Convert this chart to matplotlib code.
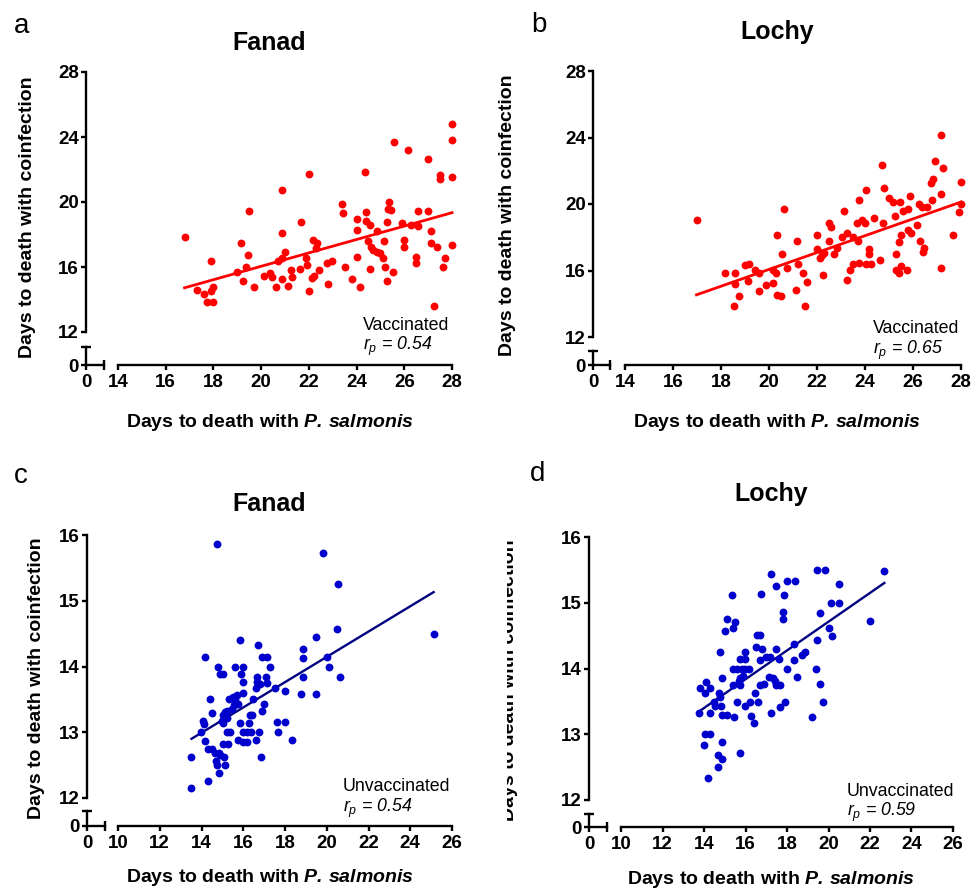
import numpy as np
import matplotlib
matplotlib.use('Agg')
import matplotlib.pyplot as plt
from matplotlib.ticker import FixedLocator
from matplotlib.transforms import Bbox, TransformedBbox

W, H = 977, 889

# --- values ---
# (a) Fanad, vaccinated
fanad_vac_x = [16.79, 17.33, 17.59, 17.72, 18.00, 17.91, 18.00, 17.88, 18.98, 19.16,
               19.26, 19.36, 19.44, 19.50, 19.72, 20.14, 20.37, 20.47, 20.61, 20.72,
               20.86, 20.86, 20.89, 20.86, 21.00, 21.14, 21.25, 21.31, 21.63, 21.67,
               21.87, 21.91, 22.01, 22.01, 22.12, 22.16, 22.23, 22.33, 22.28, 22.42,
               22.75, 22.79, 22.98, 23.37, 23.44, 23.51, 23.82, 24.00, 24.00, 24.00,
               24.14, 24.35, 24.38, 24.38, 24.56, 24.46, 24.60, 24.67, 24.56, 24.84,
               24.84, 24.98, 25.12, 25.16, 25.21, 25.26, 25.28, 25.37, 25.32, 25.44,
               25.51, 25.56, 25.91, 26.00, 26.00, 26.16, 26.27, 26.51, 26.51, 26.58,
               26.58, 27.00, 27.00, 27.11, 27.14, 27.25, 27.39, 27.50, 27.50, 27.63,
               27.72, 28.00, 28.00, 28.00, 28.00]
fanad_vac_y = [17.85, 14.60, 14.35, 13.84, 13.84, 14.50, 14.74, 16.34, 15.72, 17.46,
               15.15, 15.97, 16.71, 19.45, 14.74, 15.42, 15.62, 15.36, 14.74, 16.40,
               16.58, 20.74, 18.08, 15.25, 16.95, 14.84, 15.83, 15.36, 15.87, 18.79,
               16.58, 16.13, 21.70, 14.50, 15.31, 17.67, 15.42, 17.46, 17.16, 15.81,
               16.24, 14.97, 16.34, 19.86, 19.30, 15.97, 15.25, 18.96, 18.28, 16.64,
               14.80, 21.82, 19.37, 18.83, 18.59, 17.57, 17.26, 17.05, 15.87, 18.22,
               16.95, 16.85, 16.58, 17.63, 15.99, 18.79, 15.15, 19.98, 19.57, 19.51,
               15.72, 23.70, 18.73, 17.67, 17.22, 23.21, 18.59, 16.64, 16.24, 19.45,
               18.55, 22.64, 19.45, 18.24, 17.46, 13.62, 17.26, 21.66, 21.39, 15.97,
               16.54, 24.79, 23.81, 21.56, 17.36]

# (b) Lochy, vaccinated
lochy_vac_x = [16.98, 18.17, 18.58, 18.58, 18.54, 18.76, 19.00, 19.17, 19.14, 19.42,
               19.58, 19.58, 19.87, 20.15, 20.18, 20.29, 20.35, 20.35, 20.48, 20.53,
               20.62, 20.73, 21.12, 21.15, 21.22, 21.40, 21.57, 21.50, 21.98, 22.01,
               22.12, 22.19, 22.29, 22.26, 22.51, 22.57, 22.51, 22.72, 22.85, 23.03,
               23.12, 23.23, 23.26, 23.37, 23.48, 23.51, 23.68, 23.72, 23.75, 23.76,
               23.86, 24.00, 24.03, 24.03, 24.18, 24.18, 24.23, 24.37, 24.62, 24.72,
               24.76, 24.80, 25.00, 25.15, 25.25, 25.28, 25.28, 25.42, 25.43, 25.46,
               25.50, 25.50, 25.60, 25.78, 25.78, 25.73, 25.87, 25.92, 26.18, 26.26,
               26.29, 26.36, 26.47, 26.43, 26.60, 26.78, 26.73, 26.85, 26.92, 27.17,
               27.17, 27.17, 27.23, 27.65, 27.92, 28.00, 28.00]
lochy_vac_y = [19.01, 15.87, 15.87, 15.21, 13.86, 14.44, 16.35, 16.41, 15.35, 16.01,
               15.87, 14.74, 15.14, 16.01, 15.25, 15.85, 18.15, 14.50, 14.44, 17.01,
               19.72, 16.15, 14.84, 17.75, 16.37, 15.85, 15.31, 13.86, 18.11, 17.31,
               16.75, 16.91, 17.05, 15.75, 18.85, 18.61, 17.77, 17.01, 17.37, 18.01,
               19.58, 18.25, 15.45, 16.01, 16.37, 18.01, 18.85, 17.77, 20.22, 16.47,
               19.01, 18.85, 20.86, 16.37, 17.31, 16.97, 16.41, 19.15, 16.65, 22.36,
               18.87, 20.96, 20.38, 20.12, 19.26, 16.97, 16.01, 15.87, 17.71, 20.12,
               18.11, 16.27, 19.56, 18.41, 19.72, 16.01, 20.48, 18.25, 18.75, 20.02,
               17.77, 19.82, 17.37, 17.11, 19.82, 20.26, 21.26, 21.52, 22.58, 20.62,
               16.15, 24.17, 22.16, 18.11, 19.52, 21.32, 20.02]

# (c) Fanad, unvaccinated
fanad_unvac_x = [14.75, 19.84, 20.56, 20.48, 19.47, 18.85, 18.85, 20.00, 20.13, 20.64,
                 18.85, 18.75, 19.47, 18.00, 17.52, 15.84, 16.72, 14.16, 16.88, 17.12,
                 17.28, 14.80, 14.88, 15.01, 15.60, 16.00, 15.89, 16.00, 16.64, 16.67,
                 17.09, 17.15, 16.61, 16.80, 14.40, 15.33, 15.52, 15.60, 15.71, 15.97,
                 16.45, 15.76, 15.55, 15.44, 15.20, 15.12, 16.99, 16.88, 14.51, 15.01,
                 15.20, 15.04, 14.96, 14.05, 14.11, 16.32, 16.40, 16.29, 15.84, 17.63,
                 18.00, 17.68, 13.98, 15.20, 15.36, 15.97, 16.16, 16.35, 16.75, 15.76,
                 15.97, 16.16, 16.61, 18.32, 14.16, 15.04, 15.28, 14.32, 14.51, 14.64,
                 14.85, 14.91, 15.07, 13.52, 14.69, 14.72, 15.14, 16.83, 14.85, 14.29,
                 13.52, 25.12]
fanad_unvac_y = [15.86, 15.72, 15.25, 14.57, 14.45, 14.26, 14.13, 14.14, 14.00, 13.84,
                 13.84, 13.58, 13.58, 13.63, 13.68, 14.40, 14.33, 14.14, 14.14, 14.14,
                 14.00, 14.00, 13.89, 13.88, 14.00, 14.00, 13.88, 13.76, 13.84, 13.76,
                 13.84, 13.75, 13.68, 13.74, 13.50, 13.51, 13.54, 13.49, 13.56, 13.59,
                 13.51, 13.43, 13.41, 13.36, 13.33, 13.31, 13.43, 13.33, 13.29, 13.26,
                 13.21, 13.14, 13.17, 13.17, 13.12, 13.26, 13.26, 13.14, 13.14, 13.15,
                 13.15, 13.00, 13.00, 13.00, 13.00, 13.00, 13.00, 13.00, 13.00, 12.88,
                 12.85, 12.85, 12.88, 12.88, 12.86, 12.82, 12.82, 12.75, 12.75, 12.68,
                 12.68, 12.65, 12.63, 12.62, 12.57, 12.50, 12.50, 12.62, 12.38, 12.26,
                 12.15, 14.50]

# (d) Lochy, unvaccinated
lochy_unvac_x = [22.69, 19.44, 19.85, 17.23, 18.00, 18.40, 17.48, 20.52, 16.75, 17.87,
                 15.36, 20.12, 20.52, 17.81, 17.81, 19.57, 15.11, 15.51, 15.40, 15.00,
                 22.01, 20.01, 20.17, 16.55, 16.71, 19.44, 18.35, 14.75, 15.99, 16.52,
                 16.79, 17.48, 18.88, 18.72, 15.75, 15.99, 16.71, 17.00, 17.20, 17.60,
                 18.32, 15.40, 15.59, 15.83, 15.99, 16.15, 18.00, 19.38, 14.87, 15.75,
                 15.88, 15.67, 17.12, 17.32, 17.44, 18.48, 14.11, 13.82, 14.27, 15.40,
                 15.75, 16.71, 16.87, 17.48, 17.65, 19.61, 14.06, 14.71, 16.47, 14.75,
                 14.50, 14.82, 14.54, 15.59, 15.99, 16.20, 16.60, 17.68, 17.92, 19.73,
                 13.74, 14.27, 14.87, 15.11, 15.43, 16.26, 16.42, 17.23, 19.22, 14.06,
                 14.27, 13.98, 14.87, 14.67, 14.87, 15.72, 14.66, 14.18]
lochy_unvac_y = [15.49, 15.50, 15.50, 15.43, 15.33, 15.33, 15.25, 15.28, 15.14, 15.12,
                 15.12, 15.00, 15.00, 14.86, 14.75, 14.84, 14.75, 14.71, 14.62, 14.57,
                 14.72, 14.62, 14.49, 14.51, 14.51, 14.43, 14.38, 14.25, 14.25, 14.32,
                 14.29, 14.29, 14.25, 14.20, 14.14, 14.14, 14.13, 14.17, 14.17, 14.14,
                 14.13, 14.00, 14.00, 14.00, 14.00, 14.00, 14.00, 14.00, 13.85, 13.85,
                 13.88, 13.81, 13.87, 13.85, 13.81, 13.87, 13.80, 13.71, 13.71, 13.75,
                 13.75, 13.75, 13.77, 13.75, 13.75, 13.77, 13.62, 13.62, 13.62, 13.57,
                 13.49, 13.43, 13.43, 13.49, 13.43, 13.49, 13.49, 13.42, 13.49, 13.49,
                 13.33, 13.33, 13.29, 13.29, 13.26, 13.27, 13.17, 13.33, 13.26, 13.00,
                 13.00, 12.84, 12.88, 12.68, 12.62, 12.72, 12.50, 12.33]

top_xticks = [14, 16, 18, 20, 22, 24, 26, 28]
top_yticks = [12, 16, 20, 24, 28]
bot_xticks = [10, 12, 14, 16, 18, 20, 22, 24, 26]
bot_yticks = [12, 13, 14, 15, 16]

panel_letters = ['a', 'b', 'c', 'd']
panel_titles = ['Fanad', 'Lochy', 'Fanad', 'Lochy']
group_names = ['Vaccinated', 'Vaccinated', 'Unvaccinated', 'Unvaccinated']
r_values = ['0.54', '0.65', '0.54', '0.59']

YLABEL = 'Days to death with coinfection'
XLABEL = r'Days to death with $\mathbfit{P.\,salmonis}$'

# --- style ---
plt.rcParams['font.family'] = ['Liberation Sans', 'DejaVu Sans']
plt.rcParams['font.weight'] = 'bold'
plt.rcParams['mathtext.fontset'] = 'custom'
plt.rcParams['mathtext.rm'] = 'Liberation Sans:normal'
plt.rcParams['mathtext.it'] = 'Liberation Sans:italic:normal'
plt.rcParams['mathtext.bf'] = 'Liberation Sans:bold'
plt.rcParams['mathtext.bfit'] = 'Liberation Sans:italic:bold'

RED = '#FF0000'
BLUE = '#0000CC'
NAVY = '#000080'
LW = 1.7
TICK = 3.5
TICKFS = 13.5


def fx(px):
    return px / W


def fy(py):
    return 1 - py / H


# geometry of each panel in pixels:
# y-axis x, end of short x piece, start / end of long x piece,
# top / bottom of long y piece, top of short y piece, x-axis y
GEO = [
    (86, 104, 118, 452, 72, 332, 347, 365),
    (593, 610, 625, 961, 71, 337, 351, 365),
    (87, 105, 118, 452, 535, 798, 811, 826),
    (589, 607, 621, 953, 537, 800, 814, 827),
]


def draw_panel(fig, geo, x, y, xticks, yticks, dot_col, line_col, line_w):
    X0, XS, XM0, XM1, YT, YB, YS, Y0 = geo
    x = np.asarray(x)
    y = np.asarray(y)
    xlim = (xticks[0], xticks[-1])
    ylim = (yticks[0], yticks[-1])

    # long y piece, carries the data
    per_unit = (XM1 - XM0) / (xlim[1] - xlim[0])
    ax = fig.add_axes([fx(X0), fy(YB), fx(XM1 - X0), (YB - YT) / H])
    ax.patch.set_visible(False)
    ax.set_xlim(xlim[0] - (XM0 - X0) / per_unit, xlim[1])
    ax.set_ylim(*ylim)
    for s in ['top', 'right', 'bottom']:
        ax.spines[s].set_visible(False)
    ax.spines['left'].set_linewidth(LW)
    ax.set_xticks([])
    ax.set_yticks(yticks)
    ax.yaxis.set_minor_locator(FixedLocator([ylim[0]]))
    ax.tick_params(axis='y', which='major', direction='out', length=TICK,
                   width=LW, pad=1.5, labelsize=TICKFS)
    ax.tick_params(axis='y', which='minor', direction='in', length=TICK, width=LW)

    ax.scatter(x, y, s=32, color=dot_col, linewidths=0, clip_on=False, zorder=3)
    k, b = np.polyfit(x, y, 1)
    xx = np.array([x.min(), x.max()])
    ax.plot(xx, k * xx + b, color=line_col, lw=line_w, clip_on=False, zorder=2)

    # short pieces around the origin
    ax0 = fig.add_axes([fx(X0), fy(Y0), fx(XS - X0), (Y0 - YS) / H])
    ax0.patch.set_visible(False)
    ax0.set_xlim(0, 1)
    ax0.set_ylim(0, 1)
    for s in ['top', 'right']:
        ax0.spines[s].set_visible(False)
    for s in ['left', 'bottom']:
        ax0.spines[s].set_linewidth(LW)
    ax0.set_xticks([0])
    ax0.set_yticks([0])
    ax0.xaxis.set_minor_locator(FixedLocator([1]))
    ax0.yaxis.set_minor_locator(FixedLocator([1]))
    ax0.tick_params(which='major', direction='out', length=TICK, width=LW,
                    labelsize=TICKFS)
    ax0.tick_params(axis='x', which='major', pad=3)
    ax0.tick_params(axis='y', which='major', pad=1.5)
    ax0.tick_params(which='minor', direction='inout', length=2 * TICK, width=LW)

    # long x piece
    axx = fig.add_axes([fx(XM0), fy(Y0), fx(XM1 - XM0), 0.001])
    axx.patch.set_visible(False)
    axx.set_xlim(*xlim)
    for s in ['top', 'right', 'left']:
        axx.spines[s].set_visible(False)
    axx.spines['bottom'].set_linewidth(LW)
    axx.set_yticks([])
    axx.set_xticks(xticks)
    axx.xaxis.set_minor_locator(FixedLocator([xlim[0]]))
    axx.tick_params(axis='x', which='major', direction='out', length=TICK,
                    width=LW, pad=3, labelsize=TICKFS)
    axx.tick_params(axis='x', which='minor', direction='in', length=TICK, width=LW)
    return ax


fig = plt.figure(figsize=(W / 100, H / 100), dpi=100)

series = [
    (fanad_vac_x, fanad_vac_y, top_xticks, top_yticks, RED, RED, 2.0),
    (lochy_vac_x, lochy_vac_y, top_xticks, top_yticks, RED, RED, 2.0),
    (fanad_unvac_x, fanad_unvac_y, bot_xticks, bot_yticks, BLUE, NAVY, 1.7),
    (lochy_unvac_x, lochy_unvac_y, bot_xticks, bot_yticks, BLUE, NAVY, 1.7),
]
for g, s in zip(GEO, series):
    draw_panel(fig, g, *s)

# text positions in pixels
letter_pos = [(14, 33), (531, 32), (14, 483), (530, 481)]
title_pos = [(269, 50), (777, 39), (269, 511), (771, 501)]
ylab_pos = [(28, 217), (508, 215), (37, 678), (509, 680)]
xlab_pos = [(270, 427), (777, 427), (270, 882), (771, 884)]
note_pos = [(363, 330), (873, 333), (343, 791), (847, 796)]
r_pos = [(363, 350), (873, 354), (343, 812), (847, 816)]

for i in range(4):
    fig.text(fx(letter_pos[i][0]), fy(letter_pos[i][1]), panel_letters[i],
             fontsize=20, fontweight='normal', va='baseline', ha='left')
    fig.text(fx(title_pos[i][0]), fy(title_pos[i][1]), panel_titles[i],
             fontsize=18, fontweight='bold', va='baseline', ha='center')
    yl = fig.text(fx(ylab_pos[i][0]), fy(ylab_pos[i][1]), YLABEL, rotation=90,
                  fontsize=14, fontweight='bold', va='center', ha='center')
    fig.text(fx(xlab_pos[i][0]), fy(xlab_pos[i][1]), XLABEL,
             fontsize=14, fontweight='bold', va='baseline', ha='center')
    fig.text(fx(note_pos[i][0]), fy(note_pos[i][1]), group_names[i],
             fontsize=12.8, fontweight='normal', va='baseline', ha='left')
    fig.text(fx(r_pos[i][0]), fy(r_pos[i][1]), r'$r_p$ = ' + r_values[i],
             fontsize=12.8, fontweight='normal', style='italic',
             va='baseline', ha='left')
    if i == 3:
        # panel d's y label is cut at its left side in the source
        clip = TransformedBbox(Bbox.from_extents(fx(507), 0, 1, 1), fig.transFigure)
        yl.set_clip_box(clip)
        yl.set_clip_on(True)

fig.savefig('out.png', dpi=100)
